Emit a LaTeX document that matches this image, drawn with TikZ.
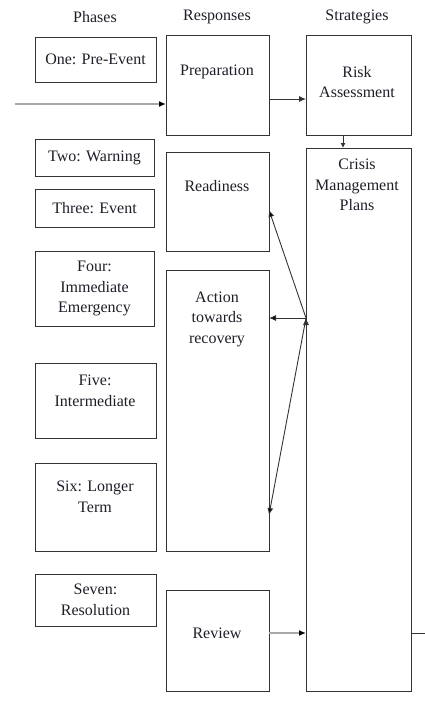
\documentclass[tikz,border=0pt]{standalone}
\usepackage{fontspec}
\setmainfont{Liberation Serif}
\usetikzlibrary{arrows.meta}
\definecolor{boxgray}{HTML}{333333}
\definecolor{linegray}{HTML}{A8A8A8}
\definecolor{txtdark}{HTML}{1E1E28}

\begin{document}
\begin{tikzpicture}[x=1pt, y=-1pt, >={Latex[length=7pt,width=6pt]},
  box/.style={draw=boxgray, line width=0.9pt, inner sep=0pt, outer sep=0pt,
    align=center, text=txtdark, font=\fontsize{16}{20.5}\selectfont},
  lbl/.style={align=center, text=txtdark, font=\fontsize{16}{20.5}\selectfont},
  link/.style={->, draw=boxgray, line width=0.9pt},
  greylink/.style={draw=linegray, line width=2pt, -{Latex[length=7pt,width=6pt,fill=black,color=black]}}]
  \useasboundingbox (0,0) rectangle (425,709);

  % column headings
  \node[lbl] (phases)     at (95,17)  {Phases};
  \node[lbl] (responses)  at (217,17) {Responses};
  \node[lbl] (strategies) at (357,17) {Strategies};

  % phases
  \node[box, minimum width=121, minimum height=45] (one)   at (95.5,59.5)  {One: Pre-Event};
  \node[box, minimum width=119, minimum height=37] (two)   at (94.5,157.5) {Two: Warning};
  \node[box, minimum width=119, minimum height=38] (three) at (94.5,208)   {Three: Event};
  \node[box, minimum width=119, minimum height=75] (four)  at (94.5,288.5) {Four:\\Immediate\\Emergency};
  \node[box, minimum width=121, minimum height=75] (five)  at (95.5,400.5) {};
  \node[box, minimum width=121, minimum height=88] (six)   at (95.5,507)   {};
  \node[box, minimum width=121, minimum height=52] (seven) at (95.5,600)   {Seven:\\Resolution};
  \node[lbl] (five-t) at (95,391) {Five:\\Intermediate};
  \node[lbl] (six-t)  at (95,497) {Six: Longer\\Term};

  % responses
  \node[box, minimum width=103, minimum height=100] (prep)   at (217.5,85)    {};
  \node[box, minimum width=103, minimum height=99]  (ready)  at (217.5,201.5) {};
  \node[box, minimum width=103, minimum height=281] (action) at (217.5,410.5) {};
  \node[box, minimum width=103, minimum height=101] (review) at (217.5,640.5) {};
  \node[lbl] (prep-t)   at (217,72)  {Preparation};
  \node[lbl] (ready-t)  at (217,186) {Readiness};
  \node[lbl] (action-t) at (217,319) {Action\\towards\\recovery};
  \node[lbl] (review-t) at (217,633) {Review};

  % strategies
  \node[box, minimum width=105, minimum height=100] (risk)   at (358.5,85)    {};
  \node[box, minimum width=105, minimum height=543] (crisis) at (358.5,419.5) {};
  \node[lbl] (risk-t)   at (357,82)  {Risk\\Assessment};
  \node[lbl] (crisis-t) at (357,185) {Crisis\\Management\\Plans};

  \coordinate (entry) at (15,104);
  \coordinate (hub)   at (crisis.west |- 0,318);
  \coordinate (exit)  at (425,633);

  \draw[greylink] (entry) -- (prep.west |- entry);
  \draw[link] (prep.east |- 0,99) -- (risk.west |- 0,99);
  \draw[link, >={Latex[length=5pt,width=5pt]}] (risk.south -| 343,0) -- (crisis.north -| 343,0);
  \path[link] (hub) edge (ready.east |- 0,210)
                    edge (action.east |- hub)
                    edge (action.east |- 0,515);
  \draw[greylink] (review.east |- exit) -- (crisis.west |- exit);
  \draw[draw=boxgray, line width=0.9pt] (crisis.east |- exit) -- (exit);
\end{tikzpicture}
\end{document}
